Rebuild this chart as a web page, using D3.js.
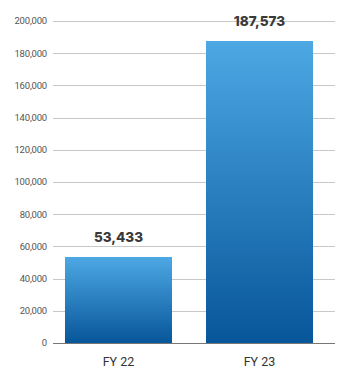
<!DOCTYPE html>
<html><head><meta charset="utf-8">
<script src="https://cdn.jsdelivr.net/npm/d3@7"></script>
<style>body{margin:0;background:#fff}svg{display:block}</style>
</head><body>
<svg id="c" width="352" height="381"></svg>
<script>
const categories = ["FY 22", "FY 23"];
const values = [53433, 187573];
const yTicks = [0, 20000, 40000, 60000, 80000, 100000, 120000, 140000, 160000, 180000, 200000];

const svg = d3.select("#c");
const mLeft = 53, mRight = 335, mTop = 21, mBottom = 343;
const x = d3.scaleBand().domain(categories).range([53, 325]).paddingInner(0.241).paddingOuter(0.085);
const y = d3.scaleLinear().domain([0, 200000]).range([mBottom, mTop]);

const defs = svg.append("defs");
const g = defs.append("linearGradient").attr("id","grad").attr("x1",0).attr("y1",0).attr("x2",0).attr("y2",1);
g.append("stop").attr("offset","0%").attr("stop-color","#4da8e3");
g.append("stop").attr("offset","100%").attr("stop-color","#07569a");

// grid
svg.append("g").selectAll("line").data(yTicks).join("line")
  .attr("x1", mLeft).attr("x2", mRight)
  .attr("y1", d => Math.round(y(d)) + 0.5).attr("y2", d => Math.round(y(d)) + 0.5)
  .attr("stroke", d => d === 0 ? "#777" : "#c8c8c8").attr("stroke-width", 1);

svg.append("g").selectAll("text").data(yTicks).join("text")
  .attr("x", 47).attr("y", d => y(d)).attr("dy", "0.35em")
  .attr("text-anchor", "end").attr("font-family", "Roboto, sans-serif")
  .attr("font-size", 9.5).attr("fill", "#555").attr("letter-spacing", "-0.2")
  .text(d => d3.format(",")(d));

// bars
svg.append("g").selectAll("rect").data(values).join("rect")
  .attr("x", (d,i) => x(categories[i])).attr("width", x.bandwidth())
  .attr("y", d => y(d)).attr("height", d => y(0) - y(d))
  .attr("fill", "url(#grad)");

// value labels
svg.append("g").selectAll("text").data(values).join("text")
  .attr("x", (d,i) => x(categories[i]) + x.bandwidth()/2)
  .attr("y", d => y(d) - 20).attr("dy", "0.35em")
  .attr("text-anchor", "middle").attr("font-family", "Inter, sans-serif")
  .attr("font-weight", 800).attr("font-size", 13.5).attr("fill", "#3a3a3a")
  .text(d => d3.format(",")(d));

// category labels
svg.append("g").selectAll("text").data(categories).join("text")
  .attr("x", d => x(d) + x.bandwidth()/2).attr("y", 362).attr("dy", "0.35em")
  .attr("text-anchor", "middle").attr("font-family", "Roboto, sans-serif")
  .attr("font-size", 12.5).attr("fill", "#333")
  .text(d => d);
</script>
</body></html>
